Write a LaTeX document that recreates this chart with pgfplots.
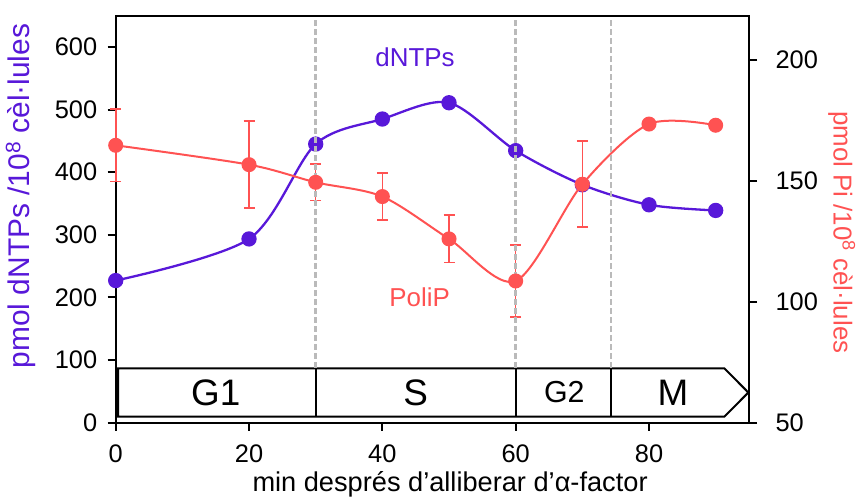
\documentclass[border=0pt]{standalone}
\usepackage{pgfplots}
\pgfplotsset{compat=1.18}
\usepackage{fontspec}
\setmainfont{Liberation Sans}
\definecolor{dntp}{RGB}{88,24,217}
\definecolor{polip}{RGB}{255,82,82}
\definecolor{dashgray}{RGB}{186,186,186}
\begin{document}
\begin{tikzpicture}
\path[use as bounding box] (-115.7bp,-78.3bp) rectangle (742.3bp,422.7bp);
\pgfplotsset{
  base/.style={
    width=633.3bp, height=407bp, scale only axis,
    xmin=0, xmax=95, clip=false,
    axis line style={line width=2bp, black},
    tick style={line width=2bp, black},
    major tick length=8bp, tick align=outside,
    /pgf/number format/assume math mode=true,
    tick label style={font=\fontsize{25.5}{29}\selectfont},
  }
}
\begin{axis}[base,
  ymin=0, ymax=650,
  ytick={0,100,...,600}, xtick={0,20,...,80},
  xtick pos=bottom, ytick pos=left,
  yticklabel style={xshift=-7bp},
  xticklabel style={yshift=-11bp},
  xlabel={min després d’alliberar d’α-factor},
  every axis x label/.style={at={(axis description cs:0.528,0)}, anchor=center, yshift=-62bp, font=\fontsize{27.3}{31}\selectfont},
  ylabel={pmol dNTPs /10\textsuperscript{8} cèl·lules},
  every axis y label/.style={at={(axis description cs:-0.150,0.557)}, rotate=90, anchor=center, font=\fontsize{30}{34}\selectfont, text=dntp},
]
\addplot[dntp, line width=2.3bp, smooth, tension=0.5, mark=*, mark size=6.5bp, mark options={fill=dntp, draw=dntp}]
  coordinates {(0,227) (20,293.5) (30,445) (40,485) (50,511) (60,434.5) (70,380) (80,348) (90,339)};
% phase box
\draw[black, line width=2bp, fill=white] (axis cs:0.35,9.6) -- (axis cs:91.3,9.6) -- (axis cs:94.9,48.2) -- (axis cs:91.3,86.9) -- (axis cs:0.35,86.9) -- cycle;
\draw[black, line width=2bp] (axis cs:30,9.6) -- (axis cs:30,86.9);
\draw[black, line width=2bp] (axis cs:60,9.6) -- (axis cs:60,86.9);
\draw[black, line width=2bp] (axis cs:74.3,9.6) -- (axis cs:74.3,86.9);
\node[font=\fontsize{37}{40}\selectfont] at (axis cs:15,48.2) {G1};
\node[font=\fontsize{37}{40}\selectfont] at (axis cs:45,48.2) {S};
\node[font=\fontsize{30.5}{34}\selectfont] at (axis cs:67.3,48.2) {G2};
\node[font=\fontsize{37}{40}\selectfont] at (axis cs:83.6,48.2) {M};
\node[font=\fontsize{26}{29}\selectfont, text=dntp] at (axis cs:44.9,583) {dNTPs};
\node[font=\fontsize{26}{29}\selectfont, text=polip] at (axis cs:45.6,200.8) {PoliP};
\end{axis}
\begin{axis}[base,
  ymin=50, ymax=218.3,
  ytick={50,100,150,200},
  axis x line=none, axis y line*=right, ytick pos=right,
  yticklabel style={xshift=15bp},
  ylabel={pmol Pi /10\textsuperscript{8} cèl·lules},
  every axis y label/.style={at={(axis description cs:1.1465,0.468)}, rotate=-90, anchor=center, font=\fontsize{26}{30}\selectfont, text=polip},
]
\addplot[polip, line width=2bp, smooth, tension=0.5, mark=*, mark size=6.5bp, mark options={fill=polip, draw=polip},
  error bars/.cd, y dir=both, y explicit,
  error bar style={line width=1.6bp, polip},
  error mark options={rotate=90, mark size=5.5bp, line width=1.6bp, polip}]
  table[x=x, y=y, y error=e] {
x y e
0 164.7 15
20 156.7 18
30 149.4 7.5
40 143.5 9.8
50 126 9.8
60 108.6 14.9
70 148.6 17.8
80 173.5 1.5
90 173 0
};
\foreach \xx in {30,60,74.3} {
  \edef\tmp{\noexpand\draw[dashgray, line width=2.4bp, dash pattern=on 6bp off 3bp] (axis cs:\xx,216.5) -- (axis cs:\xx,72.5);}
  \tmp
}
\end{axis}
\end{tikzpicture}
\end{document}
